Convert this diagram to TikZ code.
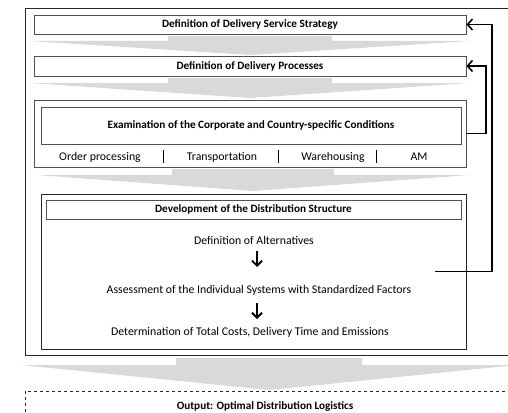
\documentclass[tikz,border=0pt]{standalone}
\usepackage{fontspec}
\setmainfont{Carlito}
\usetikzlibrary{arrows.meta}
\definecolor{blockgray}{HTML}{D9D9D9}
\definecolor{boxline}{HTML}{505050}
\tikzset{
  box/.style={draw=boxline, line width=0.8pt, inner sep=0pt, font=\bfseries\fontsize{11.2}{13}\selectfont},
  lbl/.style={inner sep=0pt, font=\fontsize{11.8}{14}\selectfont},
  fb/.style={draw=black, line width=1.8pt, -{Straight Barb[length=5pt,width=11pt,line width=1.6pt]}},
  small/.style={draw=black, line width=1.8pt, -{Straight Barb[length=5pt,width=10pt,line width=1.8pt]}},
  divider/.style={draw=black, line width=0.9pt},
  blockarrow/.style={fill=blockgray, draw=none}
}
\newcommand{\blockarr}[7]{% shaftL shaftR shaftTop headTop headL headR tip
  \fill[blockarrow] (#1,#3) -- (#2,#3) -- (#2,#4) -- (#6,#4) -- ({(#1+#2)/2},#7) -- (#5,#4) -- (#1,#4) -- cycle;}
\begin{document}
\begin{tikzpicture}[x=1pt,y=-1pt]
\useasboundingbox (0,0) rectangle (508,412);
\begin{scope}
\clip (0,0) rectangle (508,412);
% outer frame
\draw[draw=black!85, line width=0.9pt] (25,8) rectangle (540,355);
% dashed output box
\draw[draw=black!85, line width=0.8pt, dashed] (25,391) rectangle (540,440);
% block arrows
\blockarr{168}{332}{36}{41}{30}{470}{55}
\blockarr{168}{332}{78}{83}{30}{470}{98}
\blockarr{172}{334}{169}{175}{36}{470}{191}
\blockarr{176}{362}{358}{365}{21}{517}{390}
\end{scope}
% boxes
\node[box, minimum width=432pt, minimum height=19pt] (b1) at (250,24.5) {Definition of Delivery Service Strategy};
\node[box, minimum width=432pt, minimum height=20pt] (b2) at (250,66) {Definition of Delivery Processes};
\node[box, minimum width=432pt, minimum height=67pt] (b3) at (250,133.5) {};
\node[box, minimum width=420pt, minimum height=37pt] (b3h) at (251,125.5) {Examination of the Corporate and Country-specific Conditions};
\node[lbl] (op) at (100,157) {Order processing};
\node[lbl] (tr) at (222,157) {Transportation};
\node[lbl] (wh) at (333,157) {Warehousing};
\node[lbl] (am) at (419,157) {AM};
\draw[divider] (163,150) -- (163,163);
\draw[divider] (278,150) -- (278,163);
\draw[divider] (376,150) -- (376,163);
\node[box, draw=black!85, minimum width=425pt, minimum height=155pt] (b4) at (253.5,271.5) {};
\node[box, minimum width=415pt, minimum height=19pt] (b4h) at (253.5,209.5) {Development of the Distribution Structure};
\node[lbl] (t1) at (254,240) {Definition of Alternatives};
\node[lbl] (t2) at (259,290) {Assessment of the Individual Systems with Standardized Factors};
\node[lbl] (t3) at (250,332) {Determination of Total Costs, Delivery Time and Emissions};
\draw[small] (257,251) -- (257,267);
\draw[small] (257,303) -- (257,319);
\node[lbl, font=\bfseries\fontsize{11.2}{13}\selectfont] (out) at (265,407) {Output: Optimal Distribution Logistics};
% feedback loops
\draw[fb] (b3.east) -- (486,133.5) |- (b2.east);
\coordinate (fbstart) at (435,271.5);
\draw[fb] (fbstart) -- (492,271.5) |- (b1.east);
\end{tikzpicture}
\end{document}
